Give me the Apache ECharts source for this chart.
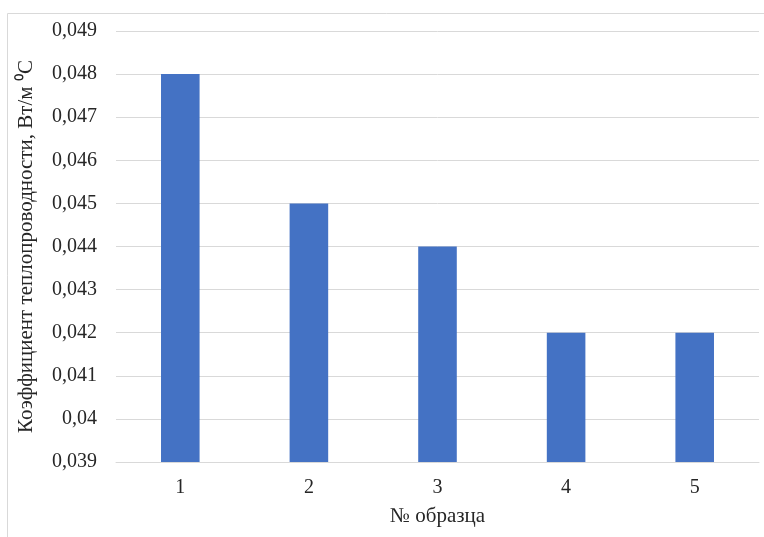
<!DOCTYPE html>
<html>
<head>
<meta charset="utf-8">
<script src="https://cdn.jsdelivr.net/npm/echarts@6/dist/echarts.min.js"></script>
<style>
html,body{margin:0;padding:0;background:#fff;}
#chart{width:764px;height:537px;}
</style>
</head>
<body>
<div id="chart"></div>
<script>
const categories = ['1', '2', '3', '4', '5'];
const values = [0.048, 0.045, 0.044, 0.042, 0.042];
const yMin = 0.039, yMax = 0.049, yStep = 0.001;
const xTitle = '№ образца';
const yTitle = 'Коэффициент теплопроводности, Вт/м ⁰С';

const FONT = '"Liberation Serif", "Times New Roman", serif';
const chart = echarts.init(document.getElementById('chart'));
chart.setOption({
  animation: false,
  graphic: [{
    type: 'rect',
    shape: {x: 7.5, y: 13.5, width: 800, height: 600},
    style: {fill: 'none', stroke: '#d9d9d9', lineWidth: 1},
    silent: true
  }],
  grid: {left: 116, right: 5, top: 31, bottom: 75},
  xAxis: {
    type: 'category',
    data: categories,
    axisLine: {lineStyle: {color: '#d9d9d9', width: 1}},
    axisTick: {show: false},
    axisLabel: {color: '#262626', fontFamily: FONT, fontSize: 20, margin: 16},
    name: xTitle,
    nameLocation: 'middle',
    nameGap: 44,
    nameTextStyle: {color: '#262626', fontFamily: FONT, fontSize: 21}
  },
  yAxis: {
    type: 'value',
    min: yMin, max: yMax, interval: yStep,
    axisLine: {show: false},
    axisTick: {show: false},
    splitLine: {lineStyle: {color: '#d9d9d9', width: 1}},
    axisLabel: {
      color: '#262626', fontFamily: FONT, fontSize: 20, margin: 19,
      formatter: v => String(+v.toFixed(3)).replace('.', ',')
    },
    name: yTitle,
    nameLocation: 'middle',
    nameGap: 79,
    nameTextStyle: {color: '#262626', fontFamily: FONT, fontSize: 21}
  },
  series: [{
    type: 'bar',
    data: values,
    barWidth: '30%',
    itemStyle: {color: '#4472c4'}
  }]
});
</script>
</body>
</html>
